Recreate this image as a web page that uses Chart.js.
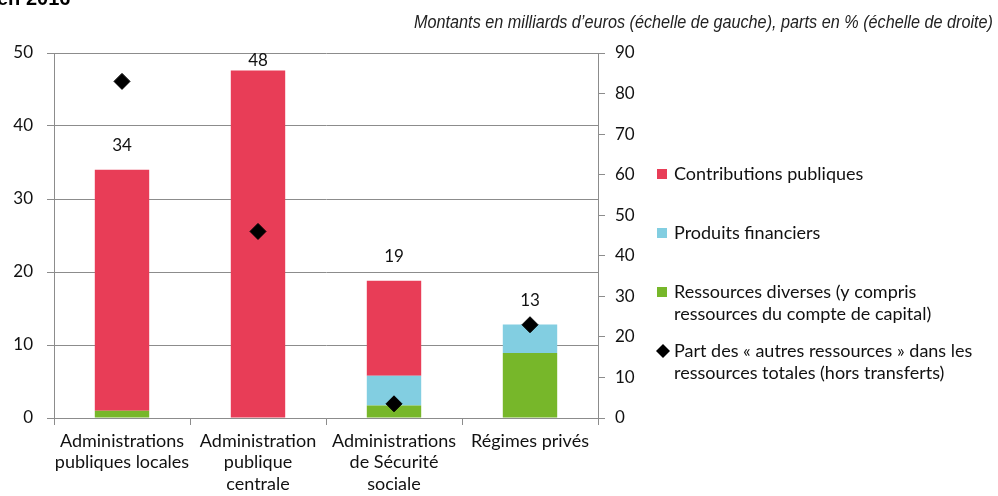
<!DOCTYPE html>
<html>
<head>
<meta charset="utf-8">
<script src="https://cdn.jsdelivr.net/npm/chart.js@4.4.1/dist/chart.umd.min.js"></script>
<style>
  html, body { margin: 0; padding: 0; background: #fff; }
  #wrap { position: relative; width: 998px; height: 496px; }
</style>
</head>
<body>
<div id="wrap"><canvas id="chart" width="998" height="496"></canvas></div>
<script>
const categories = [
  ['Administrations', 'publiques locales'],
  ['Administration', 'publique', 'centrale'],
  ['Administrations', 'de Sécurité', 'sociale'],
  ['Régimes privés'],
];
// milliards d'euros (échelle de gauche)
const ressourcesDiverses = [1.0, 0, 1.7, 8.9];
const produitsFinanciers = [0, 0, 4.1, 3.9];
const contributionsPubliques = [33.0, 47.6, 13.0, 0];
// parts en % (échelle de droite)
const partAutresRessources = [83, 46, 3.5, 23];

const leftTicks = [0, 10, 20, 30, 40, 50];
const rightTicks = [0, 10, 20, 30, 40, 50, 60, 70, 80, 90];

const titleText = 'en 2016';
const subtitleText = 'Montants en milliards d\u2019euros (échelle de gauche), parts en % (échelle de droite)';

const RED = '#E83D57';
const BLUE = '#82CEE1';
const GREEN = '#77B72A';
const GRID = '#8C8C8C';
const FONT = 'Lato, "Open Sans", sans-serif';

// totaux au-dessus des barres
const totalsPlugin = {
  id: 'totals',
  afterDatasetsDraw(chart) {
    const ctx = chart.ctx;
    const y = chart.scales.y;
    const x = chart.scales.x;
    ctx.save();
    ctx.font = '17px ' + FONT;
    ctx.fillStyle = '#111';
    ctx.textAlign = 'center';
    ctx.textBaseline = 'middle';
    categories.forEach((c, i) => {
      const total = ressourcesDiverses[i] + produitsFinanciers[i] + contributionsPubliques[i];
      let ty = y.getPixelForValue(total) - 24;
      if (ty < chart.chartArea.top + 8) ty = chart.chartArea.top + 8;
      ctx.fillText(Math.round(total).toString(), x.getPixelForValue(i), ty);
    });
    ctx.restore();
  },
};

// titre (coupé en haut) et sous-titre
const titlesPlugin = {
  id: 'titles',
  afterDraw(chart) {
    const ctx = chart.ctx;
    ctx.save();
    ctx.fillStyle = '#000';
    ctx.font = 'bold 20px "Liberation Sans", Arial, sans-serif';
    ctx.textBaseline = 'alphabetic';
    ctx.textAlign = 'left';
    ctx.fillText(titleText, -3, 5);
    ctx.fillStyle = '#222';
    ctx.font = 'italic 19px "Liberation Sans Narrow", "Arial Narrow", "Liberation Sans", sans-serif';
    ctx.textAlign = 'right';
    ctx.textBaseline = 'middle';
    const w = ctx.measureText(subtitleText).width;
    ctx.save();
    ctx.translate(993, 23);
    ctx.scale(579 / w, 1);
    ctx.fillText(subtitleText, 0, 0);
    ctx.restore();
    ctx.restore();
  },
};

// légende à droite
const legendPlugin = {
  id: 'sideLegend',
  afterDraw(chart) {
    const ctx = chart.ctx;
    const items = [
      { ds: chart.data.datasets[2], marker: 'box' },
      { ds: chart.data.datasets[1], marker: 'box' },
      { ds: chart.data.datasets[0], marker: 'box' },
      { ds: chart.data.datasets[3], marker: 'diamond' },
    ];
    ctx.save();
    ctx.font = '18px ' + FONT;
    ctx.textBaseline = 'middle';
    ctx.textAlign = 'left';
    let y0 = 174;
    items.forEach((it) => {
      const lines = Array.isArray(it.ds.label) ? it.ds.label : [it.ds.label];
      if (it.marker === 'box') {
        ctx.fillStyle = it.ds.backgroundColor;
        ctx.fillRect(657, y0 - 5, 10, 10);
      } else {
        ctx.fillStyle = '#000';
        ctx.beginPath();
        ctx.moveTo(663, y0 - 7);
        ctx.lineTo(670, y0);
        ctx.lineTo(663, y0 + 7);
        ctx.lineTo(656, y0);
        ctx.closePath();
        ctx.fill();
      }
      ctx.fillStyle = '#111';
      lines.forEach((l, k) => ctx.fillText(l, 674, y0 + k * 22));
      y0 += 59;
    });
    ctx.restore();
  },
};

new Chart(document.getElementById('chart'), {
  type: 'bar',
  data: {
    labels: categories,
    datasets: [
      {
        label: ['Ressources diverses (y compris', 'ressources du compte de capital)'],
        data: ressourcesDiverses,
        backgroundColor: GREEN,
        stack: 's',
      },
      {
        label: 'Produits financiers',
        data: produitsFinanciers,
        backgroundColor: BLUE,
        stack: 's',
      },
      {
        label: 'Contributions publiques',
        data: contributionsPubliques,
        backgroundColor: RED,
        stack: 's',
      },
      {
        type: 'line',
        label: ['Part des \u00ab autres ressources \u00bb dans les', 'ressources totales (hors transferts)'],
        data: partAutresRessources,
        yAxisID: 'y2',
        showLine: false,
        pointStyle: 'rectRot',
        pointRadius: 8,
        pointHoverRadius: 8,
        pointBackgroundColor: '#000',
        pointBorderColor: '#000',
        borderColor: '#000',
        backgroundColor: '#000',
        order: -1,
      },
    ],
  },
  options: {
    responsive: false,
    animation: false,
    layout: { padding: { top: 53, right: 350, left: 0, bottom: 0 } },
    categoryPercentage: 0.4,
    barPercentage: 1,
    plugins: {
      legend: { display: false },
      tooltip: { enabled: false },
    },
    scales: {
      x: {
        stacked: true,
        offset: true,
        grid: {
          offset: true,
          drawOnChartArea: false,
          drawTicks: true,
          tickLength: 7,
          color: GRID,
        },
        border: { color: GRID, width: 1 },
        ticks: {
          color: '#111',
          font: { family: FONT, size: 18, lineHeight: 1.2 },
          padding: 5,
          maxRotation: 0,
          autoSkip: false,
        },
        afterFit(s) { s.height = 78; },
      },
      y: {
        stacked: true,
        position: 'left',
        min: 0,
        max: 50,
        afterBuildTicks(s) { s.ticks = leftTicks.map((v) => ({ value: v })); },
        grid: { color: GRID, tickLength: 7, drawTicks: true },
        border: { color: GRID, width: 1 },
        ticks: {
          color: '#111',
          font: { family: FONT, size: 17 },
          padding: 14,
        },
        afterFit(s) { s.width = 54; },
      },
      y2: {
        position: 'right',
        min: 0,
        max: 90,
        afterBuildTicks(s) { s.ticks = rightTicks.map((v) => ({ value: v })); },
        grid: { drawOnChartArea: false, color: GRID, tickLength: 7, drawTicks: true },
        border: { color: GRID, width: 1 },
        ticks: {
          color: '#111',
          font: { family: FONT, size: 17 },
          padding: 10,
        },
        afterFit(s) { s.width = 50; },
      },
    },
  },
  plugins: [totalsPlugin, titlesPlugin, legendPlugin],
});
</script>
</body>
</html>
